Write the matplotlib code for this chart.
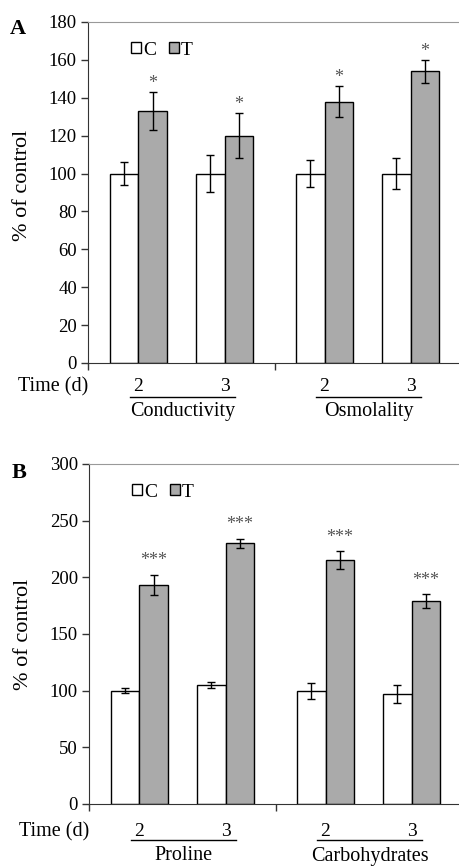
import numpy as np
import matplotlib
matplotlib.use("Agg")
import matplotlib.pyplot as plt
import matplotlib.transforms as mtransforms
from matplotlib.patches import Patch

plt.rcParams["font.family"] = ["Liberation Serif", "DejaVu Serif"]

days = ["2", "3", "2", "3"]
groups_a = ["Conductivity", "Osmolality"]
groups_b = ["Proline", "Carbohydrates"]

ctrl_a = [100, 100, 100, 100]
ctrl_a_err = [6, 10, 7, 8]
trt_a = [133, 120, 138, 154]
trt_a_err = [10, 12, 8, 6]
stars_a = ["*", "*", "*", "*"]

ctrl_b = [100, 105, 100, 97]
ctrl_b_err = [2, 3, 7, 8]
trt_b = [193, 230, 215, 179]
trt_b_err = [9, 4, 8, 6]
stars_b = ["***", "***", "***", "***"]

pos = np.array([0.27, 0.73, 1.265, 1.725])
w = 0.152
gray = "#aaaaaa"

W, H = 460, 866
fig = plt.figure(figsize=(W / 100, H / 100), dpi=100)


def panel(rect, ctrl, cerr, trt, terr, stars, groups, ymax, step, letter, star_off,
          offs, ylab_y, letter_y):
    ax = fig.add_axes(rect)
    ax.bar(pos - w / 2, ctrl, w, color="white", edgecolor="black", linewidth=1)
    ax.bar(pos + w / 2, trt, w, color=gray, edgecolor="black", linewidth=1)
    ax.errorbar(pos - w / 2, ctrl, yerr=cerr, fmt="none", ecolor="black",
                elinewidth=1, capsize=3)
    ax.errorbar(pos + w / 2, trt, yerr=terr, fmt="none", ecolor="black",
                elinewidth=1, capsize=3)
    for x, v, e, s in zip(pos + w / 2, trt, terr, stars):
        ax.text(x, v + e + star_off, s, ha="center", va="bottom", fontsize=13,
                color="#555555")
    ax.set_xlim(0, 2)
    ax.set_ylim(0, ymax)
    ax.set_yticks(np.arange(0, ymax + 1, step))
    ax.set_xticks([0, 1])
    ax.set_xticklabels([])
    ax.tick_params(axis="both", direction="out", length=5, width=1, labelsize=13.5,
                   pad=3, colors="#333333")
    ax.tick_params(axis="y", labelcolor="black")
    ax.spines["right"].set_visible(False)
    ax.spines["top"].set_color("#999999")
    ax.spines["left"].set_color("#333333")
    ax.spines["bottom"].set_color("#333333")
    ax.set_ylabel("% of control", fontsize=16)
    ax.yaxis.set_label_coords(-0.15, ylab_y)

    ax.legend(handles=[Patch(facecolor="white", edgecolor="black", label="C"),
                       Patch(facecolor=gray, edgecolor="black", label="T")],
              loc="upper left", bbox_to_anchor=(0.095, 0.965), ncol=2, frameon=False,
              handlelength=0.5, handleheight=0.5, handletextpad=0.12,
              columnspacing=0.65, fontsize=14, borderaxespad=0)

    num_off, line_off, lab_off = offs
    tr_num = mtransforms.offset_copy(ax.get_xaxis_transform(), fig=fig, y=-num_off, units="dots")
    tr_line = mtransforms.offset_copy(ax.get_xaxis_transform(), fig=fig, y=-line_off, units="dots")
    tr_lab = mtransforms.offset_copy(ax.get_xaxis_transform(), fig=fig, y=-lab_off, units="dots")
    for x, d in zip(pos, days):
        ax.text(x, 0, d, transform=tr_num, ha="center", va="center", fontsize=14)
    for i, g in enumerate(groups):
        a, b = pos[2 * i], pos[2 * i + 1]
        ax.plot([a - 0.045, b + 0.055], [0, 0], transform=tr_line, color="black",
                linewidth=1, clip_on=False)
        ax.text((a + b) / 2 + 0.005, 0, g, transform=tr_lab, ha="center", va="center",
                fontsize=14.5)
    ax.text(-0.188, 0, "Time (d)", transform=tr_num, ha="center", va="center", fontsize=14.5)
    ax.text(-0.188, letter_y, letter, transform=ax.transAxes, ha="center", va="center",
            fontsize=16, fontweight="bold")
    return ax


panel([88 / W, 1 - 363 / H, 374 / W, 341 / H], ctrl_a, ctrl_a_err, trt_a, trt_a_err,
      stars_a, groups_a, 180, 20, "A", 0, (24, 34, 49), 0.52, 0.98)
panel([89 / W, 1 - 804 / H, 374 / W, 340 / H], ctrl_b, ctrl_b_err, trt_b, trt_b_err,
      stars_b, groups_b, 300, 50, "B", 5, (28, 36, 52), 0.5, 0.975)

fig.savefig("out.png", dpi=100)
